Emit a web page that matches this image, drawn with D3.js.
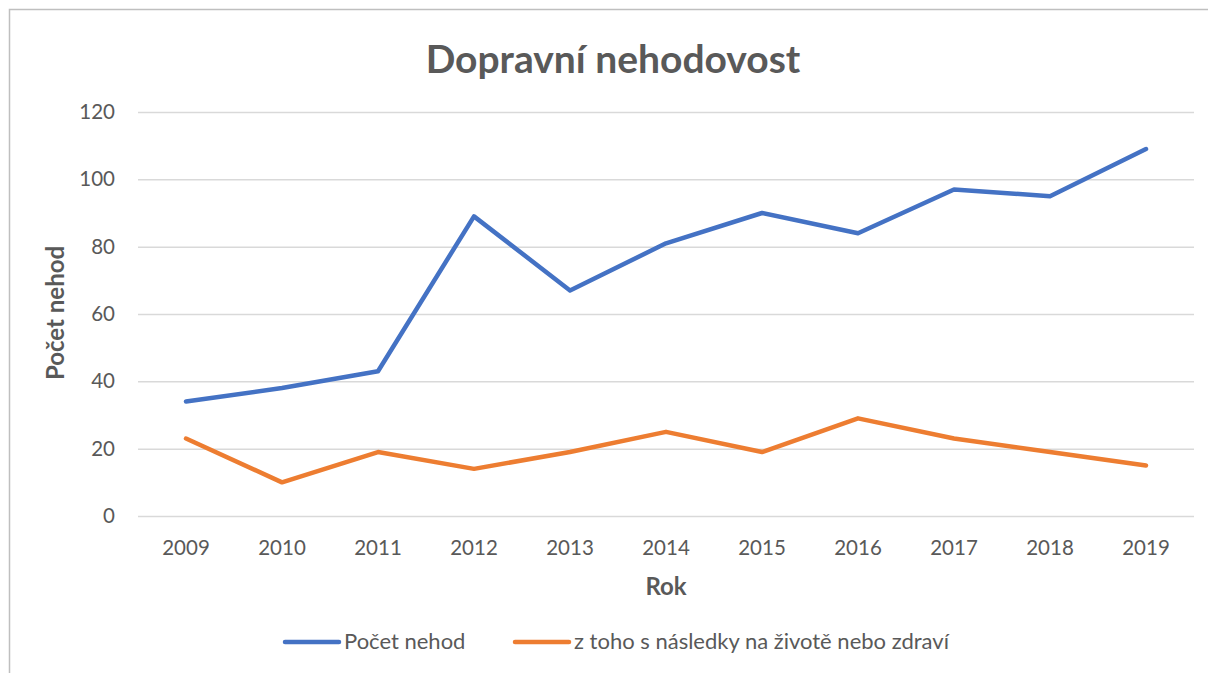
<!DOCTYPE html>
<html><head><meta charset="utf-8">
<script src="https://cdn.jsdelivr.net/npm/d3@7"></script>
<style>body{margin:0;background:#fff;} svg{display:block;}</style>
</head><body>
<svg id="c" width="1208" height="673"></svg>
<script>
const years = ["2009","2010","2011","2012","2013","2014","2015","2016","2017","2018","2019"];
const pocetNehod = [34,38,43,89,67,81,90,84,97,95,109];
const sNasledky = [23,10,19,14,19,25,19,29,23,19,15];
const yTicks = [0,20,40,60,80,100,120];
const seriesNames = ["Počet nehod","z toho s následky na životě nebo zdraví"];
const colors = ["#4472C4","#ED7D31"];

(function(){
const svg = d3.select("#c");
const font = "Lato, 'Open Sans', sans-serif";
svg.append("rect").attr("x",9.5).attr("y",9.5).attr("width",1300).attr("height",800)
  .attr("fill","#fff").attr("stroke","#bfbfbf").attr("stroke-width",1.5);

const pl=138, pr=1194, pt=112, pb=516;
const x = d3.scaleBand().domain(years).range([pl,pr]);
const y = d3.scaleLinear().domain([0,120]).range([pb,pt]);

const g = svg.append("g");
const ya = g.append("g").attr("transform",`translate(${pl},0)`)
  .call(d3.axisLeft(y).tickValues(yTicks).tickSize(-(pr-pl)).tickPadding(23));
ya.select(".domain").remove();
ya.selectAll("line").attr("stroke","#d9d9d9").attr("stroke-width",1.5);
ya.selectAll("text").attr("fill","#595959").style("font-family",font).style("font-size","20.5px");

const xa = g.append("g").attr("transform",`translate(0,${pb})`)
  .call(d3.axisBottom(x).tickSize(0).tickPadding(24));
xa.select(".domain").remove();
xa.selectAll("text").attr("fill","#595959").style("font-family",font).style("font-size","20.5px");

const line = d3.line().x((d,i)=>x(years[i])+x.bandwidth()/2).y(d=>y(d));
[pocetNehod,sNasledky].forEach((s,k)=>{
  g.append("path").datum(s).attr("d",line).attr("fill","none")
   .attr("stroke",colors[k]).attr("stroke-width",4.5).attr("stroke-linejoin","round").attr("stroke-linecap","round");
});

svg.append("text").attr("x",613).attr("y",73).attr("text-anchor","middle")
  .attr("fill","#595959").style("font-family",font).style("font-size","39px").style("font-weight","bold")
  .text("Dopravní nehodovost");
svg.append("text").attr("x",666).attr("y",595).attr("text-anchor","middle")
  .attr("fill","#595959").style("font-family",font).style("font-size","24px").style("font-weight","bold").text("Rok");
svg.append("text").attr("transform","translate(64,313) rotate(-90)").attr("text-anchor","middle")
  .attr("fill","#595959").style("font-family",font).style("font-size","24px").style("font-weight","bold").text("Počet nehod");

const legX = [285,515];
seriesNames.forEach((n,k)=>{
  svg.append("line").attr("x1",legX[k]).attr("x2",legX[k]+54).attr("y1",642).attr("y2",642)
    .attr("stroke",colors[k]).attr("stroke-width",4.5).attr("stroke-linecap","round");
  svg.append("text").attr("x",legX[k]+59).attr("y",649).attr("fill","#595959")
    .style("font-family",font).style("font-size","22px").text(n);
});
})();
</script>
</body></html>
